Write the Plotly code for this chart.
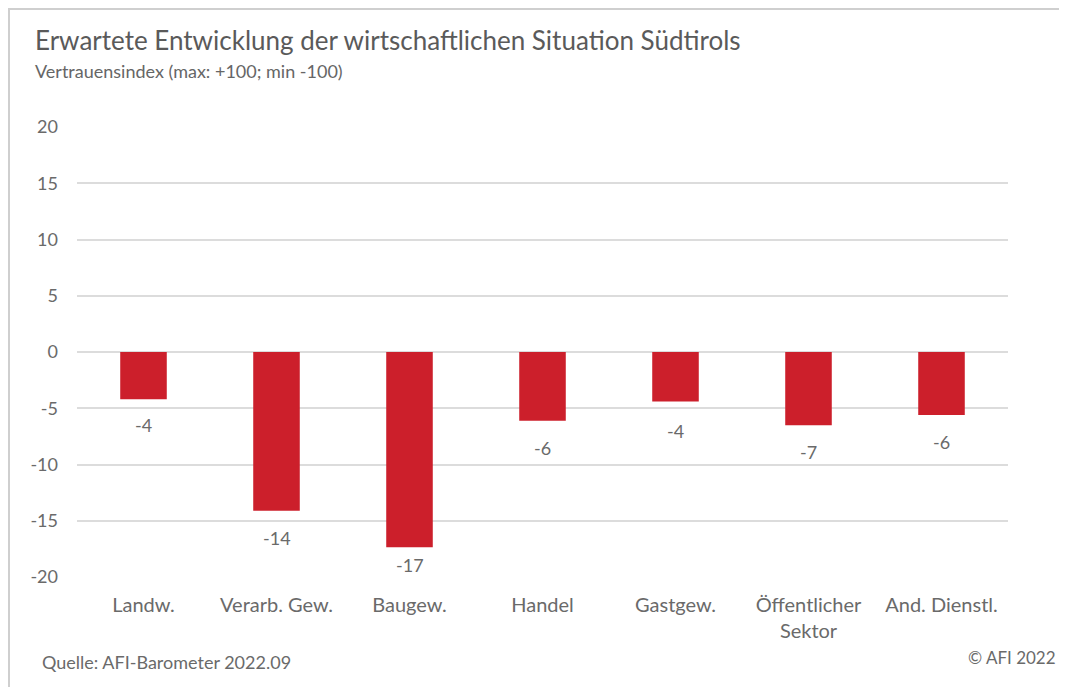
import plotly.graph_objects as go

categories = ["Landw.", "Verarb. Gew.", "Baugew.", "Handel", "Gastgew.", "Öffentlicher<br>Sektor", "And. Dienstl."]
values = [-4.2, -14.1, -17.35, -6.1, -4.4, -6.5, -5.6]
labels = ["-4", "-14", "-17", "-6", "-4", "-7", "-6"]
label_shift = [-26, -27, -18, -27, -29, -27, -27]
tick_vals = [20, 15, 10, 5, 0, -5, -10, -15, -20]
tick_text = ["20", "15", "10", "5", "0", "-5", "-10", "-15", "-20"]

FONT = "Lato"
OFF = 8  # browser body margin
W, H = 1067 - OFF, 687 - OFF
L, T = 77 - OFF, 127 - OFF
pw, ph = 931, 450
R, B = W - L - pw, H - T - ph

def px_x(p):
    return (p - OFF - L) / pw

def px_y(p):
    return (T + ph - (p - OFF)) / ph

fig = go.Figure(go.Bar(
    x=categories, y=values,
    marker=dict(color="#cc1f2b", line=dict(width=0)),
    hoverinfo="x+y",
))

annotations = [
    dict(x=c, y=v, text=t, xref="x", yref="y", showarrow=False, yshift=s,
         yanchor="middle", font=dict(family=FONT, size=18, color="#6a6a6a"))
    for c, v, t, s in zip(categories, values, labels, label_shift)
]
annotations += [
    dict(text="Erwartete Entwicklung der wirtschaftlichen Situation Südtirols",
         xref="paper", yref="paper", x=px_x(33), y=px_y(40), xanchor="left", yanchor="middle",
         showarrow=False, font=dict(family=FONT, size=26, color="#5a5a5a")),
    dict(text="Vertrauensindex (max: +100; min -100)",
         xref="paper", yref="paper", x=px_x(33), y=px_y(71), xanchor="left", yanchor="middle",
         showarrow=False, font=dict(family=FONT, size=18, color="#666666")),
    dict(text="Quelle: AFI-Barometer 2022.09",
         xref="paper", yref="paper", x=px_x(40), y=px_y(662), xanchor="left", yanchor="middle",
         showarrow=False, font=dict(family=FONT, size=18, color="#6a6a6a")),
    dict(text="© AFI 2022",
         xref="paper", yref="paper", x=px_x(1058), y=px_y(657), xanchor="right", yanchor="middle",
         showarrow=False, font=dict(family=FONT, size=17, color="#6a6a6a")),
]

fig.update_layout(
    width=W, height=H,
    margin=dict(l=L, r=R, t=T, b=B),
    paper_bgcolor="white", plot_bgcolor="white",
    bargap=0.65,
    showlegend=False,
    font=dict(family=FONT, color="#6a6a6a"),
    xaxis=dict(showgrid=False, showline=False, ticks="", ticklabelstandoff=14,
               tickfont=dict(family=FONT, size=20, color="#6a6a6a")),
    yaxis=dict(range=[-20, 20], tickvals=tick_vals, ticktext=tick_text, showgrid=True,
               gridcolor="#dcdcdc", gridwidth=1.5, zeroline=True,
               zerolinecolor="#dcdcdc", zerolinewidth=1.5, showline=False,
               ticks="", ticklabelstandoff=18,
               tickfont=dict(family=FONT, size=18, color="#6a6a6a")),
    shapes=[dict(type="path", xref="paper", yref="paper",
                 path=f"M {px_x(1090)} {px_y(9)} L {px_x(9)} {px_y(9)} L {px_x(9)} {px_y(700)}",
                 line=dict(color="#cfcfcf", width=2))],
    annotations=annotations,
)

fig.write_html("out.html")
